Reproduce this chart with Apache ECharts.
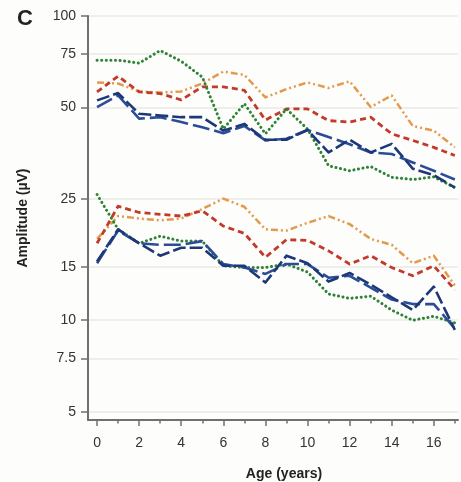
<!DOCTYPE html>
<html><head><meta charset="utf-8">
<script src="https://cdn.jsdelivr.net/npm/echarts@6/dist/echarts.min.js"></script>
<style>html,body{margin:0;padding:0;background:#fdfdfb}#c{width:461px;height:482px}</style>
</head><body><div id="c"></div>
<script>
const ages = [0,1,2,3,4,5,6,7,8,9,10,11,12,13,14,15,16,17];
const yTicks = [5,7.5,10,15,25,50,75,100];
const xLabelTicks = [0,2,4,6,8,10,12,14,16];
const xMinorTicks = [1,3,5,7,9,11,13,15,17];

// upper group
const orangeUpper = [60.5,60,56.5,56,56.5,60,65.7,64,54,57.5,60.5,58,61,50.2,54.8,43.5,42,37];
const redUpper    = [56.3,63.4,56.3,55.6,53,58.5,58.5,57,45.5,49.5,49.5,45.3,44.8,46.5,41,39,37,34.8];
const greenUpper  = [71.6,71.6,70,77,71,63,42.5,51.5,41,49.5,42.5,32.2,31,32,29.5,29,29.6,27.3];
const navyUpper   = [52.8,55.8,47.7,47.1,46.5,46.5,42,44.2,39.2,39.2,42.2,35.6,39.2,35.6,38,31.5,30,27.3];
const blueUpper   = [50.2,54.8,46,46.5,44.8,43.1,41.2,43.5,39,39.5,42.2,40,37.9,35.6,35.2,33,31,29];
// lower group
const orangeLower = [18.5,22.0,21.6,21.3,21.6,23.2,25.1,23.6,19.9,19.7,20.9,22.0,20.7,18.5,17.7,15.4,16.3,13.0];
const redLower    = [17.9,23.7,22.6,22.3,22.0,22.9,20.4,19.3,16.1,18.4,18.3,16.9,15.3,16.3,14.9,14.0,15.1,12.6];
const greenLower  = [25.9,19.9,17.9,18.9,18.2,18.2,15.1,14.9,14.9,15.3,14.4,12.2,11.8,12.0,10.8,10.0,10.3,9.8];
const navyLower   = [15.6,19.9,17.9,16.3,17.3,17.3,15.1,15.1,13.3,16.3,15.4,13.4,14.3,13.1,11.9,10.8,12.9,9.3];
const blueLower   = [15.4,19.7,17.9,17.7,17.7,18.2,15.3,14.9,14.2,15.3,15.3,13.8,14.0,12.8,11.7,11.3,11.3,9.4];

const styles = {
  orange: {color:'#e39a4c', type:[7,3,2,3,2,3], width:2.5, cap:'butt'},
  red:    {color:'#c23a2a', type:[6,4], width:2.8, cap:'butt'},
  green:  {color:'#2f8236', type:[0.1,4.5], width:3, cap:'round'},
  navy:   {color:'#1d3877', type:[13,4], width:2.6, cap:'butt'},
  blue:   {color:'#2b4d98', type:[17,5], width:2.6, cap:'butt'}
};
const seriesList = [
  ['orange', orangeUpper], ['red', redUpper], ['green', greenUpper], ['blue', blueUpper], ['navy', navyUpper],
  ['orange', orangeLower], ['red', redLower], ['green', greenLower], ['blue', blueLower], ['navy', navyLower]
];
const font = '"Liberation Sans", Arial, sans-serif';

const chart = echarts.init(document.getElementById('c'), null, {renderer:'canvas'});
chart.setOption({
  backgroundColor: '#fdfdfb',
  animation: false,
  title: {text:'C', left: 12, top: 3, textStyle:{fontFamily:font, fontSize:22, fontWeight:'bold', color:'#222'}},
  grid: {left: 88, right: 3, top: 16, bottom: 62, containLabel:false, outerBoundsMode:'none'},
  xAxis: [{
    type:'value', min:-0.43, max:17.15,
    axisLine:{show:true, onZero:false, lineStyle:{color:'#707070', width:2}},
    axisTick:{show:true, length:6, customValues:xLabelTicks, lineStyle:{color:'#707070', width:1.5}},
    axisLabel:{customValues:xLabelTicks, fontFamily:font, fontSize:14, color:'#333', margin:16},
    splitLine:{show:false},
    name:'Age (years)', nameLocation:'middle', nameGap:47,
    nameTextStyle:{fontFamily:font, fontSize:14, fontWeight:'bold', color:'#222', padding:[0,0,0,22]}
  },{
    type:'value', min:-0.43, max:17.15, position:'bottom',
    axisLine:{show:false},
    axisTick:{show:true, length:3.5, customValues:xMinorTicks, lineStyle:{color:'#707070', width:1.5}},
    axisLabel:{show:false}, splitLine:{show:false}
  }],
  yAxis: {
    type:'log', logBase:10, min:4.7, max:100,
    axisLine:{show:true, onZero:false, lineStyle:{color:'#707070', width:2}},
    axisTick:{show:true, length:7, customValues:yTicks, lineStyle:{color:'#707070', width:1.5}},
    axisLabel:{customValues:yTicks, fontFamily:font, fontSize:14, color:'#333', margin:12,
      formatter: v => String(v)},
    splitLine:{show:true, lineStyle:{color:'#e9e9e6', width:1.5}},
    name:'Amplitude (µV)', nameLocation:'middle', nameGap:58,
    nameTextStyle:{fontFamily:font, fontSize:14, fontWeight:'bold', color:'#222'}
  },
  series: seriesList.map(([k, vals]) => ({
    type:'line', xAxisIndex:0, symbol:'none', silent:true,
    data: ages.map((a,i) => [a, vals[i]]),
    lineStyle:{color:styles[k].color, width:styles[k].width, type:styles[k].type, cap:styles[k].cap, join:'round'}
  }))
});
</script></body></html>
